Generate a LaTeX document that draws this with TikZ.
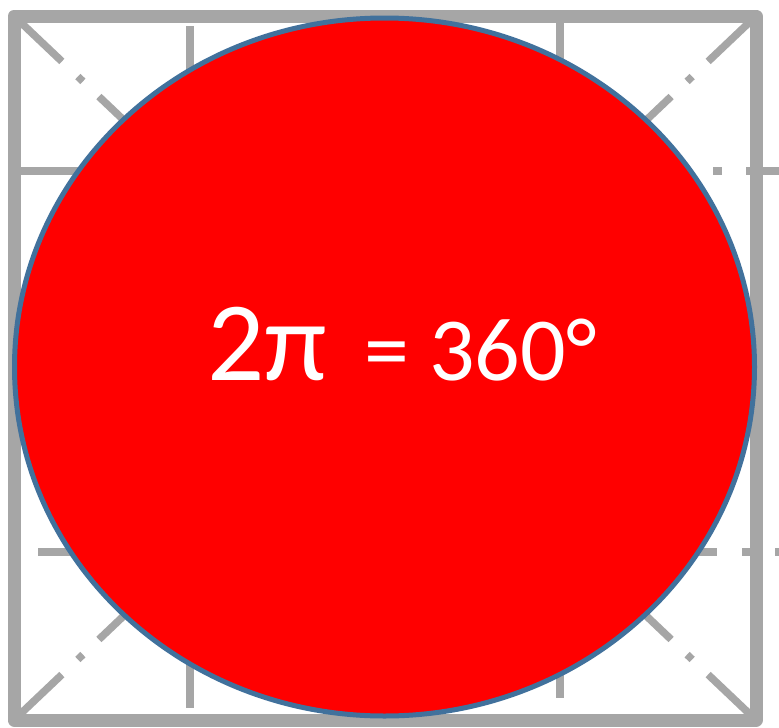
\documentclass[tikz,border=0pt]{standalone}
\usepackage{fontspec}
\setmainfont{Carlito}
\definecolor{framegray}{HTML}{A6A6A6}
\definecolor{rimblue}{HTML}{41719C}
\definecolor{discred}{HTML}{FF0000}
\tikzset{
  frameline/.style={draw=framegray, line width=13pt, line join=round},
  gridline/.style={draw=framegray, line width=8.5pt},
  diagline/.style={draw=framegray, line width=7.5pt, dash pattern=on 66pt off 22pt on 7pt off 22pt},
  disc/.style={fill=discred, draw=rimblue, line width=5pt},
  bigtext/.style={text=white, inner sep=0pt, anchor=base west}
}
\begin{document}
\begin{tikzpicture}[x=1pt,y=-1pt]
\useasboundingbox (0,0) rectangle (779,728);
\fill[white] (0,0) rectangle (779,728);
\coordinate (mid) at (385,368);
\coordinate (tl) at (14,16);
\coordinate (tr) at (756,16);
\coordinate (bl) at (14,720);
\coordinate (br) at (756,720);
% grid lines
\draw[gridline] (190,26) -- (190,130);
\draw[gridline] (560,16) -- (560,130);
\draw[gridline] (190,600) -- (190,708);
\draw[gridline] (560,600) -- (560,698);
\draw[gridline] (14,171) -- (160,171);
\draw[gridline] (600,171) -- (690,171);
\draw[gridline] (713,171) -- (722,171);
\draw[gridline] (746,171) -- (785,171);
\draw[gridline] (38,552) -- (160,552);
\draw[gridline] (600,552) -- (717,552);
\draw[gridline] (742,552) -- (750,552);
\draw[gridline] (775,552) -- (785,552);
% diagonals, each half drawn from its corner
\draw[diagline] (tl) -- (mid);
\draw[diagline] (br) -- (mid);
\draw[diagline] (tr) -- (mid);
\draw[diagline] (bl) -- (mid);
% frame
\draw[frameline] (tl) rectangle (br);
% disc
\draw[disc] (384.5,367) ellipse [x radius=370, y radius=349];
% text
\node[bigtext, font=\fontsize{113}{120}\selectfont] (twopi) at (207,380) {2π};
\node[bigtext, font=\fontsize{90}{100}\selectfont] (deg) at (364,380) {= 360°};
\end{tikzpicture}
\end{document}
